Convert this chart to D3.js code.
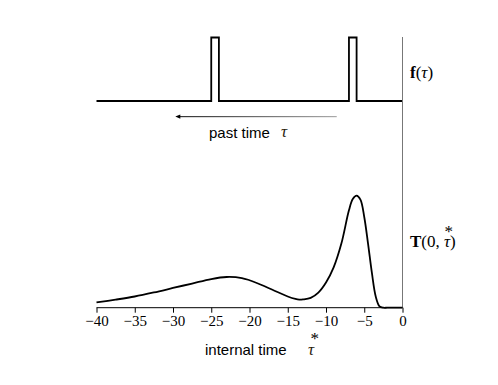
<!DOCTYPE html>
<html>
<head>
<meta charset="utf-8">
<title>f and T</title>
<script src="https://d3js.org/d3.v7.min.js"></script>
<style>
  body { margin: 0; background: #fff; }
  .tick text { font-family: "Liberation Serif", "DejaVu Serif", serif; font-size: 15px; }
  .sans { font-family: "Liberation Sans", Arial, sans-serif; font-size: 15px; }
  .serif { font-family: "Liberation Serif", "DejaVu Serif", serif; font-size: 17px; }
</style>
</head>
<body>
<svg id="chart" width="498" height="385"></svg>
<script>
// pulses of the input f(tau): [start, end]
var pulses = [[-25, -24], [-7, -6]];

// response T(0, tau*)
var tauStar = [-40, -37.5, -35, -32.5, -30, -27.5, -25, -23, -21, -20, -18.5, -17, -15, -14, -13.5,
               -13, -12, -11, -10, -9, -8, -7, -6.5, -6, -5.5, -5, -4.5, -4, -3.5, -3, -2.5, -2, -1, 0];
var response = [0.047, 0.072, 0.10, 0.136, 0.176, 0.216, 0.256, 0.274, 0.265, 0.245, 0.205, 0.16, 0.10, 0.078, 0.072,
                0.074, 0.088, 0.135, 0.225, 0.36, 0.57, 0.87, 0.97, 1.0, 0.965, 0.81, 0.57, 0.31, 0.10, 0.012, 0, 0, 0, 0];

var xTicks = [-40, -35, -30, -25, -20, -15, -10, -5, 0];

var svg = d3.select("#chart");

var x = d3.scaleLinear().domain([-40, 0]).range([96.5, 402.5]);
var yTop = d3.scaleLinear().domain([0, 1]).range([101, 37.5]);
var yBot = d3.scaleLinear().domain([0, 1]).range([307.7, 195.7]);

// step signal for the top panel
var fPts = [[-40, 0]];
pulses.forEach(function(p) {
  fPts.push([p[0], 0], [p[0], 1], [p[1], 1], [p[1], 0]);
});
fPts.push([0, 0]);

svg.append("path")
  .attr("d", d3.line().x(function(d) { return x(d[0]); }).y(function(d) { return yTop(d[1]); })(fPts))
  .attr("fill", "none")
  .attr("stroke", "#000")
  .attr("stroke-width", 1.8);

// vertical line at tau = 0
svg.append("line")
  .attr("x1", x(0)).attr("x2", x(0))
  .attr("y1", 37).attr("y2", yBot(0))
  .attr("stroke", "#777")
  .attr("stroke-width", 1);

// x axis
var axis = svg.append("g")
  .attr("transform", "translate(0," + yBot(0) + ")")
  .call(d3.axisBottom(x).tickValues(xTicks).tickSize(5).tickPadding(3)
    .tickFormat(function(d) { return d < 0 ? "\u2212" + Math.abs(d) : d; }));
axis.select(".domain").attr("d", "M" + x(-40) + ",0H" + x(0)).attr("stroke", "#000");
axis.selectAll(".tick line").attr("stroke", "#000");
axis.selectAll(".tick text").attr("fill", "#000");

// response curve
svg.append("path")
  .attr("d", d3.line()
    .x(function(d, i) { return x(tauStar[i]); })
    .y(function(d) { return yBot(d); })
    .curve(d3.curveCatmullRom.alpha(0.5))(response))
  .attr("fill", "none")
  .attr("stroke", "#000")
  .attr("stroke-width", 1.8);

// arrow: past time
var defs = svg.append("defs");
var grad = defs.append("linearGradient").attr("id", "arrowGrad");
grad.append("stop").attr("offset", "0%").attr("stop-color", "#333");
grad.append("stop").attr("offset", "100%").attr("stop-color", "#aaa");
svg.append("rect")
  .attr("x", x(-29.2)).attr("y", 116)
  .attr("width", x(-8.6) - x(-29.2)).attr("height", 1.2)
  .attr("fill", "url(#arrowGrad)");
svg.append("path")
  .attr("d", "M" + x(-29.7) + ",116.6 l5,-2.2 v4.4 z")
  .attr("fill", "#000");

svg.append("text").attr("class", "sans").attr("x", 209).attr("y", 138).text("past time");
svg.append("text").attr("class", "serif").attr("x", 281).attr("y", 137)
  .attr("font-style", "italic").attr("font-size", 19).attr("fill", "#2b1d0e").text("\u03c4");

// internal time label
svg.append("text").attr("class", "sans").attr("x", 205).attr("y", 355).text("internal time");
svg.append("text").attr("class", "serif").attr("x", 308).attr("y", 355)
  .attr("font-style", "italic").attr("font-size", 19).attr("fill", "#2b1d0e").text("\u03c4");
svg.append("text").attr("class", "serif").attr("x", 310.5).attr("y", 344)
  .attr("font-size", 10).text("*");

// right labels
var fl = svg.append("text").attr("class", "serif").attr("x", 410).attr("y", 78);
fl.append("tspan").attr("font-weight", "bold").text("f");
fl.append("tspan").text("(");
fl.append("tspan").attr("font-style", "italic").text("\u03c4");
fl.append("tspan").text(")");

var tl = svg.append("text").attr("class", "serif").attr("x", 410).attr("y", 247);
tl.append("tspan").attr("font-weight", "bold").text("T");
tl.append("tspan").text("(0, ");
tl.append("tspan").attr("font-style", "italic").text("\u03c4");
tl.append("tspan").text(")");
// asterisk above the tau of the T label
var ext = tl.node().getExtentOfChar(5);
svg.append("text").attr("class", "serif").attr("font-size", 10)
  .attr("x", ext.x + ext.width / 2 - 2.5).attr("y", 237).text("*");
</script>
</body>
</html>
